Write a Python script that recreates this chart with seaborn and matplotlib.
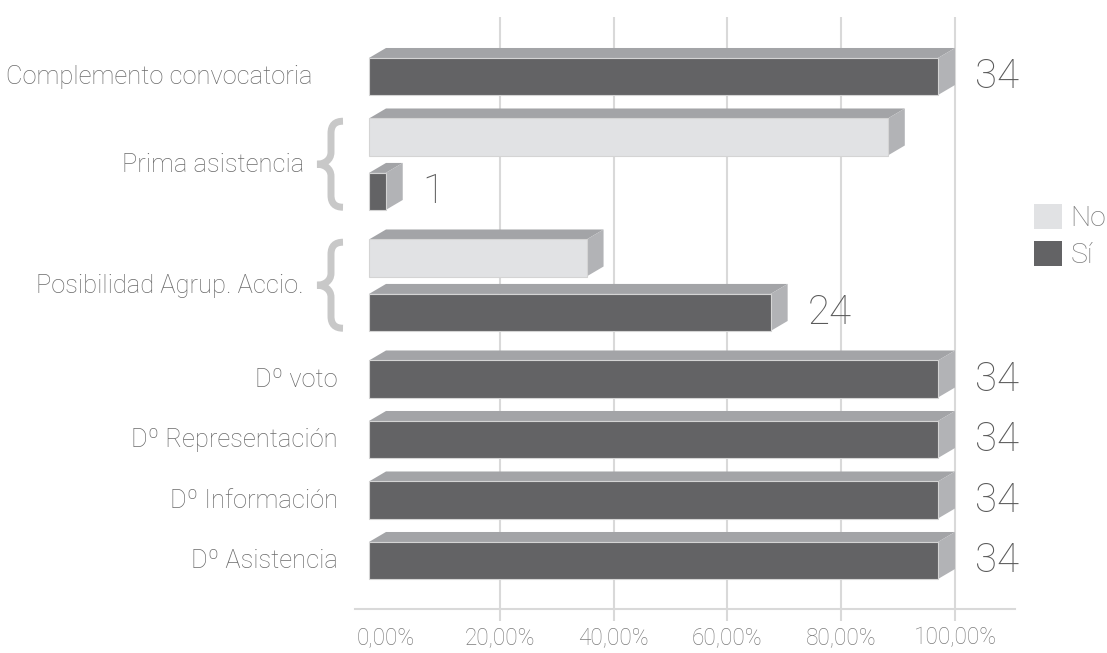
import numpy as np
import pandas as pd
import matplotlib
matplotlib.use("Agg")
import matplotlib.pyplot as plt
import matplotlib.transforms as mtransforms
from matplotlib.patches import Polygon, PathPatch, Patch
from matplotlib.path import Path
import seaborn as sns

# Survey answers: number of companies (out of 34) per governance item
total = 34
categories = ["Complemento convocatoria", "Prima asistencia", "Posibilidad Agrup. Accio.",
              "Dº voto", "Dº Representación", "Dº Información", "Dº Asistencia"]
si_counts = [34, 1, 24, 34, 34, 34, 34]
no_counts = [None, 31, 13, None, None, None, None]
series = ["No", "Sí"]
xticks = [0, 20, 40, 60, 80, 100]
xtick_labels = ["0,00%", "20,00%", "40,00%", "60,00%", "80,00%", "100,00%"]

# ---- style ----
DPI = 100
W, H = 1107, 653
dark = "#636365"
light = "#e1e2e4"
top_col = "#a3a4a7"
side_col = "#b2b3b6"
grid_col = "#d9d9d9"
brace_col = "#c8c8c8"
txt_col = "#6a6a6a"
tick_col = "#7c7c7c"
num_col = "#5a5a5a"
depth = (17, 10)          # 3-D depth of the bars, pixels (right, up)
pair_step = 0.9           # spacing of the No/Sí bars inside a group

sns.set_theme(style="white")
plt.rcParams["font.family"] = ["Roboto", "DejaVu Sans"]
plt.rcParams["font.weight"] = "light"

# ---- build row table ----
rows = []
pos = 0.0
for cat, si, no in zip(categories, si_counts, no_counts):
    if no is None:
        rows.append((cat, "Sí", si, pos))
        pos += 1.0
    else:
        rows.append((cat, "No", no, pos))
        rows.append((cat, "Sí", si, pos + pair_step))
        pos += 2.0
df = pd.DataFrame(rows, columns=["categoria", "serie", "n", "pos"])
df["pct"] = df["n"] / total * 100

fig = plt.figure(figsize=(W / DPI, H / DPI), dpi=DPI)
ax_left, ax_right, ax_top, ax_bot = 355, 1015, 17, 609
ax = fig.add_axes([ax_left / W, (H - ax_bot) / H, (ax_right - ax_left) / W, (ax_bot - ax_top) / H])

sns.barplot(data=df, x="pct", y="pos", hue="serie", hue_order=series,
            palette={"No": light, "Sí": dark}, orient="h", native_scale=True,
            dodge=False, width=0.68, saturation=1, edgecolor="#d4d4d4",
            linewidth=0.8, legend=False, errorbar=None, ax=ax)
bars = list(ax.patches)

# axis scale: 0 % at x=386 px, 100 % at x=955 px; rows every 60.5 px
x0_px, x100_px = 386, 955
px_per_pct = (x100_px - x0_px) / 100
ax.set_xlim((ax_left - x0_px) / px_per_pct, (ax_right - x0_px) / px_per_pct)
row_px, row0 = 60.5, 66.5
ax.set_ylim((ax_bot - row0) / row_px, (ax_top - row0) / row_px)

ax.set_xticks(xticks)
ax.set_xticklabels(xtick_labels)
ax.set_yticks([])
ax.set_xlabel("")
ax.set_ylabel("")
ax.grid(axis="x", color=grid_col, linewidth=1.5)
ax.grid(axis="y", visible=False)
ax.set_axisbelow(True)
for s in ["left", "right", "top"]:
    ax.spines[s].set_visible(False)
ax.spines["bottom"].set_color(grid_col)
ax.spines["bottom"].set_linewidth(1.5)
ax.tick_params(axis="x", length=8.6, width=1.5, color=grid_col, pad=3.5,
               labelsize=16.3, labelcolor=tick_col, direction="out", bottom=True)
first = ax.xaxis.get_major_ticks()[0]
first.tick1line.set_visible(False)
first.gridline.set_visible(False)

# ---- 3-D bars: seaborn bars become the front faces ----
dx, dy = depth
front_off = mtransforms.ScaledTranslation(-dx / DPI, -dy / DPI, fig.dpi_scale_trans)
ident = mtransforms.IdentityTransform()
for p in bars:
    x0, y0, w, h = p.get_x(), p.get_y(), p.get_width(), p.get_height()
    back = ax.transData.transform([(x0, y0), (x0 + w, y0 + h)])
    bl, br = min(back[:, 0]), max(back[:, 0])
    bb, bt = min(back[:, 1]), max(back[:, 1])
    fl, fr, fb, ft = bl - dx, br - dx, bb - dy, bt - dy
    top_face = Polygon([(fl, ft), (fr, ft), (br, bt), (bl, bt)], closed=True,
                       transform=ident, facecolor=top_col, edgecolor="none", zorder=1)
    side_face = Polygon([(fr, ft), (br, bt), (br, bb), (fr, fb)], closed=True,
                        transform=ident, facecolor=side_col, edgecolor="none", zorder=1)
    ax.add_patch(top_face)
    ax.add_patch(side_face)
    p.set_transform(ax.transData + front_off)
    p.set_zorder(2)

# ---- value labels on the Sí bars ----
for _, r in df[df["serie"] == "Sí"].iterrows():
    ax.annotate(f"{int(r['n'])}", xy=(r["pct"], r["pos"]), xytext=(20, -21.5),
                textcoords="offset pixels", ha="left", va="baseline",
                fontsize=29, color=num_col, fontweight="light", annotation_clip=False)

# ---- category labels and braces ----
label_pad = {"Complemento convocatoria": 43}
blend = mtransforms.blended_transform_factory(ax.transAxes, ax.transData)
brace_path = Path(
    [(27, 43), (19, 43), (15, 39), (15, 31), (15, 12),
     (15, 4), (8, 0), (1, 0),
     (8, 0), (15, -4), (15, -12), (15, -31),
     (15, -39), (19, -43), (27, -43)],
    [Path.MOVETO, Path.CURVE4, Path.CURVE4, Path.CURVE4, Path.LINETO,
     Path.CURVE4, Path.CURVE4, Path.CURVE4,
     Path.CURVE4, Path.CURVE4, Path.CURVE4, Path.LINETO,
     Path.CURVE4, Path.CURVE4, Path.CURVE4])
for cat, grp in df.groupby("categoria", sort=False):
    mid = grp["pos"].mean()
    paired = len(grp) > 1
    pad = 51 if paired else label_pad.get(cat, 17)
    ax.annotate(cat, xy=(0, mid), xycoords=blend, xytext=(-pad, -17.5),
                textcoords="offset pixels", ha="right", va="baseline",
                fontsize=18.4, color=txt_col, fontweight="light", annotation_clip=False)
    if paired:
        tr = (mtransforms.Affine2D().translate(-39, -dy)
              + mtransforms.ScaledTranslation(0, mid, blend))
        ax.add_artist(PathPatch(brace_path, transform=tr, facecolor="none",
                                edgecolor=brace_col, linewidth=5, capstyle="butt",
                                clip_on=False))

# ---- legend ----
handles = [Patch(facecolor=light, edgecolor="none", label="No"),
           Patch(facecolor=dark, edgecolor="none", label="Sí")]
fig.legend(handles=handles, loc="upper left", bbox_to_anchor=(1034 / W, 1 - 204 / H),
           frameon=False, handlelength=0.98, handleheight=0.98,
           handletextpad=0.3, labelspacing=0.3, borderpad=0, borderaxespad=0,
           labelcolor=tick_col, prop={"weight": "light", "size": 20.5})

fig.savefig("out.png", dpi=DPI)
